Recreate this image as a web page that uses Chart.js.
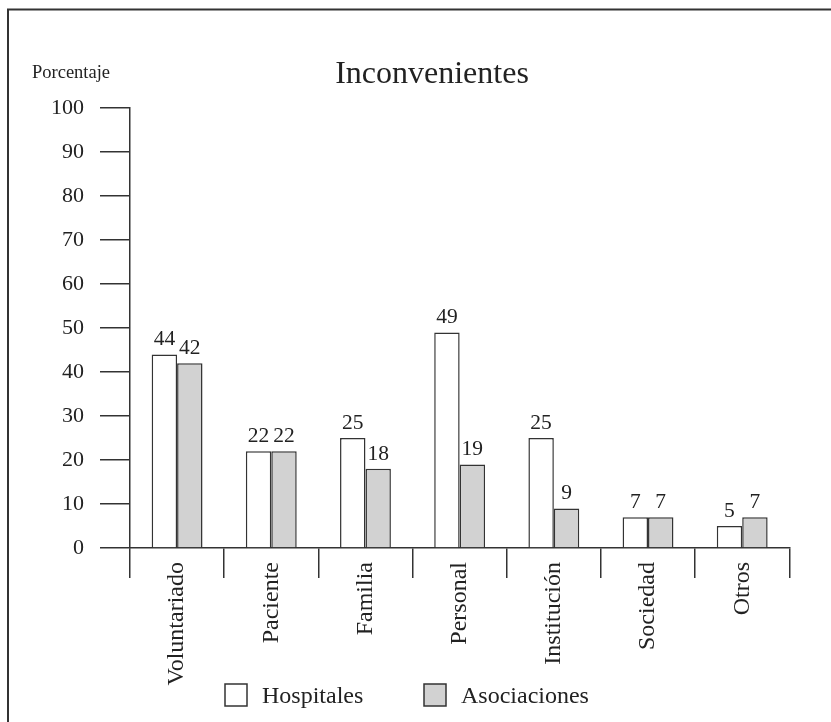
<!DOCTYPE html>
<html lang="es">
<head>
    <meta charset="UTF-8">
    <title>Inconvenientes</title>
    <script src="https://cdn.jsdelivr.net/npm/chart.js"></script>
    <style>
        body {
            margin: 0;
            padding: 0;
            background-color: #fff;
        }
        #wrap {
            width: 831px;
            height: 722px;
        }
    </style>
</head>
<body>
    <div id="wrap">
        <canvas id="inconvChart" width="831" height="722"></canvas>
    </div>

    <script>
        const categories = ['Voluntariado', 'Paciente', 'Familia', 'Personal', 'Institución', 'Sociedad', 'Otros'];
        const hospitales = [44, 22, 25, 49, 25, 7, 5];
        const asociaciones = [42, 22, 18, 19, 9, 7, 7];
        const yTicks = [0, 10, 20, 30, 40, 50, 60, 70, 80, 90, 100];

        const serif = "'Liberation Serif', 'Times New Roman', serif";
        const ink = '#222';

        // frame, title and the "Porcentaje" caption
        const decorPlugin = {
            id: 'decor',
            beforeDraw(chart) {
                const ctx = chart.ctx;
                ctx.save();
                ctx.strokeStyle = '#333';
                ctx.lineWidth = 2;
                ctx.beginPath();
                ctx.moveTo(8, chart.height);
                ctx.lineTo(8, 9.5);
                ctx.lineTo(chart.width, 9.5);
                ctx.stroke();

                ctx.fillStyle = ink;
                ctx.textBaseline = 'alphabetic';
                ctx.textAlign = 'center';
                ctx.font = '32px ' + serif;
                ctx.fillText('Inconvenientes', 432, 83);

                ctx.textAlign = 'left';
                ctx.font = '18.5px ' + serif;
                ctx.fillText('Porcentaje', 32, 78);
                ctx.restore();
            }
        };

        // numbers above every bar
        const valueLabelPlugin = {
            id: 'valueLabels',
            afterDatasetsDraw(chart) {
                const ctx = chart.ctx;
                ctx.save();
                ctx.fillStyle = ink;
                ctx.font = '21.5px ' + serif;
                ctx.textAlign = 'center';
                ctx.textBaseline = 'alphabetic';
                chart.data.datasets.forEach((ds, i) => {
                    chart.getDatasetMeta(i).data.forEach((bar, j) => {
                        ctx.fillText(String(ds.data[j]), bar.x, bar.y - 9);
                    });
                });
                ctx.restore();
            }
        };

        // legend row under the category labels
        const legendPlugin = {
            id: 'legendRow',
            afterDraw(chart) {
                const ctx = chart.ctx;
                const slots = [225, 424];
                ctx.save();
                ctx.font = '24px ' + serif;
                ctx.textBaseline = 'alphabetic';
                ctx.textAlign = 'left';
                chart.data.datasets.forEach((ds, i) => {
                    const x = slots[i];
                    ctx.fillStyle = ds.backgroundColor;
                    ctx.strokeStyle = ds.borderColor;
                    ctx.lineWidth = 1.5;
                    ctx.fillRect(x, 684, 22, 22);
                    ctx.strokeRect(x, 684, 22, 22);
                    ctx.fillStyle = ink;
                    ctx.fillText(ds.label, x + 37, 703);
                });
                ctx.restore();
            }
        };

        const ctx = document.getElementById('inconvChart').getContext('2d');
        const chart = new Chart(ctx, {
            type: 'bar',
            data: {
                labels: categories,
                datasets: [
                    {
                        label: 'Hospitales',
                        data: hospitales,
                        backgroundColor: '#ffffff',
                        borderColor: '#333',
                        borderWidth: 1.5
                    },
                    {
                        label: 'Asociaciones',
                        data: asociaciones,
                        backgroundColor: '#d2d2d2',
                        borderColor: '#333',
                        borderWidth: 1.5
                    }
                ]
            },
            options: {
                responsive: false,
                animation: false,
                layout: {
                    padding: { top: 108, left: 0, right: 41.7, bottom: 0 }
                },
                datasets: {
                    bar: {
                        categoryPercentage: 0.54,
                        barPercentage: 1.0
                    }
                },
                plugins: {
                    legend: { display: false },
                    title: { display: false },
                    tooltip: { enabled: false }
                },
                scales: {
                    x: {
                        offset: true,
                        afterFit(scale) { scale.height = 174; },
                        border: { display: true, color: '#333', width: 1.5 },
                        grid: {
                            offset: true,
                            drawOnChartArea: false,
                            drawTicks: true,
                            tickLength: 30,
                            color: '#333',
                            lineWidth: 1.5
                        },
                        ticks: {
                            minRotation: 90,
                            maxRotation: 90,
                            autoSkip: false,
                            padding: -16,
                            color: ink,
                            font: { family: serif, size: 24 }
                        }
                    },
                    y: {
                        min: 0,
                        max: 100,
                        afterFit(scale) { scale.width = 130; },
                        afterBuildTicks(scale) {
                            scale.ticks = yTicks.map(v => ({ value: v }));
                        },
                        border: { display: true, color: '#333', width: 1.5 },
                        grid: {
                            drawOnChartArea: false,
                            drawTicks: true,
                            tickLength: 30,
                            color: '#333',
                            lineWidth: 1.5
                        },
                        ticks: {
                            padding: 16,
                            color: ink,
                            font: { family: serif, size: 22 }
                        }
                    }
                }
            },
            plugins: [decorPlugin, valueLabelPlugin, legendPlugin]
        });
    </script>
</body>
</html>
